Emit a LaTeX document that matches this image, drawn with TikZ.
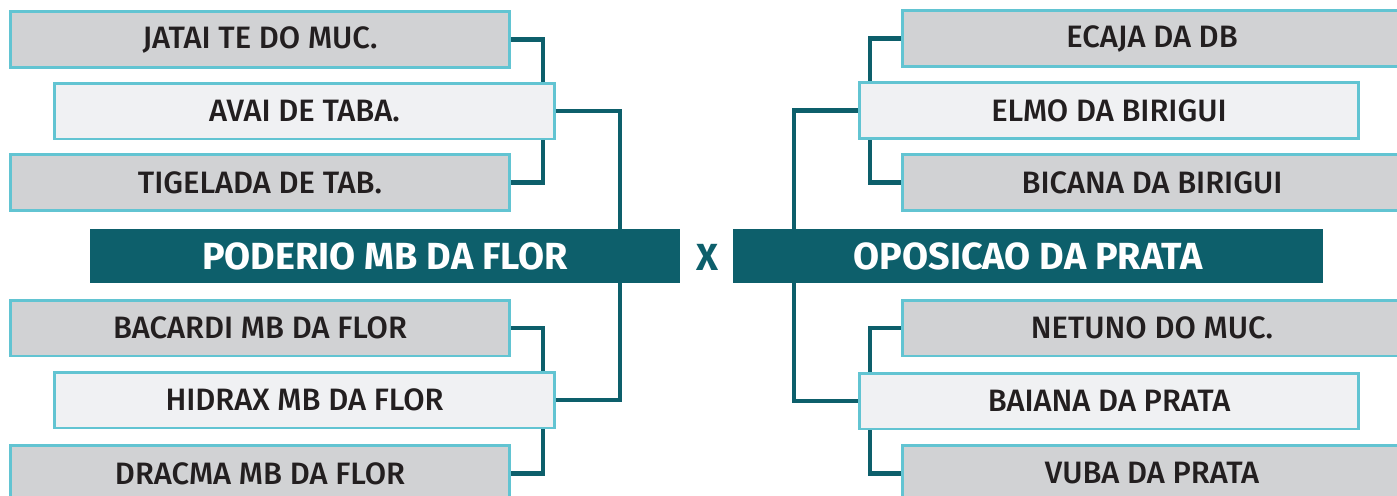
\documentclass[tikz,border=0pt]{standalone}
\usepackage{fontspec}
\setmainfont{Fira Sans}
\newfontfamily\teamfont{Fira Sans Medium}
\usetikzlibrary{positioning}
\definecolor{teamgray}{RGB}{209,210,212}
\definecolor{leadgray}{RGB}{240,241,243}
\definecolor{rim}{RGB}{98,196,210}
\definecolor{petrol}{RGB}{13,95,107}
\definecolor{ink}{RGB}{35,31,32}

\begin{document}
\begin{tikzpicture}[x=0.02cm, y=-0.02cm,
  every node/.style={font=\teamfont\fontsize{17.6}{19}\selectfont, text=ink},
  team/.style={draw=rim, line width=1.7pt, fill=teamgray, minimum width=10cm, minimum height=1.12cm, inner sep=0pt},
  lead/.style={team, fill=leadgray},
  club/.style={fill=petrol, minimum width=11.8cm, minimum height=1.08cm, inner sep=0pt, text=white, font=\fontsize{21.5}{24}\selectfont\bfseries},
  link/.style={draw=petrol, line width=2.3pt}]
\clip (0,0) rectangle (1397,495);
% left side
\node[team] (jatai) at (260,39.5) {JATAI TE DO MUC.};
\node[lead] (avai) at (304.5,111) {AVAI DE TABA.};
\node[team] (tigelada) at (260,182.5) {TIGELADA DE TAB.};
\node[club] (poderio) at (385,256) {PODERIO MB DA FLOR};
\node[team] (bacardi) at (260,328) {BACARDI MB DA FLOR};
\node[lead] (hidrax) at (304.5,400) {HIDRAX MB DA FLOR};
\node[team] (dracma) at (260,473.5) {DRACMA MB DA FLOR};
% right side
\node[team] (ecaja) at (1152,38.5) {ECAJA DA DB};
\node[lead] (elmo) at (1109,110.5) {ELMO DA BIRIGUI};
\node[team] (bicana) at (1152,182.5) {BICANA DA BIRIGUI};
\node[club] (oposicao) at (1028,256) {OPOSICAO DA PRATA};
\node[team] (netuno) at (1152,328) {NETUNO DO MUC.};
\node[lead] (baiana) at (1109,401) {BAIANA DA PRATA};
\node[team] (vuba) at (1152,473.5) {VUBA DA PRATA};
\node[text=petrol, font=\fontsize{21.5}{24}\selectfont\bfseries] (versus) at (707,257) {X};
% bracket lines
\coordinate (lj) at (543,0);
\coordinate (lc) at (620,0);
\coordinate (rj) at (870,0);
\coordinate (rc) at (794,0);
\draw[link] (jatai.east) -| (lj |- avai.north);
\draw[link] (tigelada.east) -| (lj |- avai.south);
\draw[link] (avai.east) -| (lc |- poderio.north);
\draw[link] (bacardi.east) -| (lj |- hidrax.north);
\draw[link] (dracma.east) -| (lj |- hidrax.south);
\draw[link] (hidrax.east) -| (lc |- poderio.south);
\draw[link] (ecaja.west) -| (rj |- elmo.north);
\draw[link] (bicana.west) -| (rj |- elmo.south);
\draw[link] (elmo.west) -| (rc |- oposicao.north);
\draw[link] (netuno.west) -| (rj |- baiana.north);
\draw[link] (vuba.west) -| (rj |- baiana.south);
\draw[link] (baiana.west) -| (rc |- oposicao.south);
\end{tikzpicture}
\end{document}
